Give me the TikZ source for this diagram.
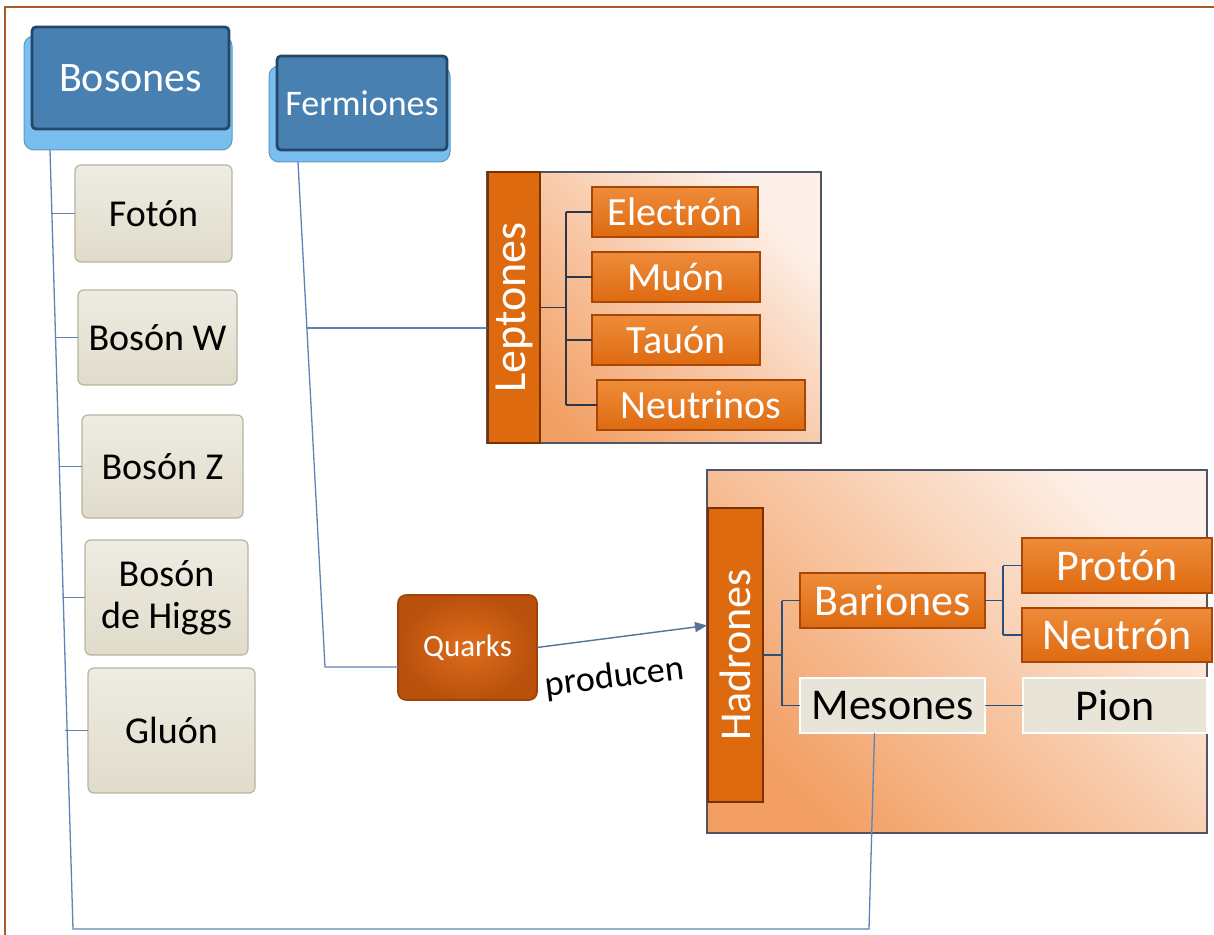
\documentclass[tikz,border=0pt]{standalone}
\usepackage{fontspec}
\setmainfont{Carlito}
\usetikzlibrary{arrows.meta,calc}

\definecolor{frameC}{RGB}{170,90,40}
\definecolor{blueFace}{RGB}{72,128,178}
\definecolor{blueEdge}{RGB}{36,72,105}
\definecolor{blueLight}{RGB}{120,190,238}
\definecolor{beige}{RGB}{224,220,203}
\definecolor{beigeEdge}{RGB}{185,180,160}
\definecolor{orMid}{RGB}{222,106,16}
\definecolor{orDark}{RGB}{170,70,5}
\definecolor{orLight}{RGB}{238,140,58}
\definecolor{lineB}{RGB}{95,132,180}
\definecolor{lineD}{RGB}{45,55,72}
\definecolor{lineH}{RGB}{40,80,125}
\definecolor{panelEdge}{RGB}{80,85,100}
\definecolor{panDark}{RGB}{242,158,98}
\definecolor{panLight}{RGB}{253,240,232}
\definecolor{mesC}{RGB}{232,229,216}
\definecolor{qkIn}{RGB}{222,110,28}
\definecolor{qkOut}{RGB}{185,80,12}

\newcommand\pbox[7]{%
  \pgfmathsetmacro\pbw{(#4-#2)/2}%
  \pgfmathsetmacro\pbh{(#5-#3)/2}%
  \node[#6, minimum width=\pbw pt, minimum height=\pbh pt] (#1) at ({(#2+#4)/2},{(#3+#5)/2}) {#7};%
}

\tikzset{
  every node/.style={inner sep=0pt, outer sep=0pt},
  bluebase/.style={rounded corners=5pt, fill=blueLight, draw=blueLight!80!black, line width=0.5pt},
  blueface/.style={rounded corners=2pt, fill=blueFace, draw=blueEdge, line width=1.4pt, text=white},
  beigebox/.style={rounded corners=3pt, top color=beige!55!white, bottom color=beige, draw=beigeEdge, line width=0.6pt, text=black, font=\fontsize{19}{21}\selectfont, align=center},
  orbox/.style={top color=orLight, bottom color=orMid, draw=orDark, line width=1.3pt, text=white, font=\fontsize{20}{24}\selectfont},
  horbox/.style={orbox, font=\fontsize{22}{26}\selectfont},
  mesbox/.style={fill=mesC, draw=white, line width=1.2pt, text=black, font=\fontsize{22}{26}\selectfont},
  panel/.style={draw=panelEdge, line width=0.75pt, left color=panDark, right color=panLight, shading angle=135},
  barbox/.style={fill=orMid, draw=orDark!70!black, line width=0.9pt},
  quarkbox/.style={rounded corners=4pt, inner color=qkIn, outer color=qkOut, draw=qkOut!85!black, line width=0.8pt, text=white, font=\fontsize{15.5}{18}\selectfont},
  treeB/.style={draw=lineB, line width=0.65pt},
  treeD/.style={draw=lineD, line width=0.8pt},
  treeH/.style={draw=lineH, line width=0.8pt},
  framepath/.style={draw=frameC, line width=1.2pt}
}

\begin{document}
\begin{tikzpicture}[x=0.5pt, y=-0.5pt]
\useasboundingbox (0,0) rectangle (1214,935);
\fill[white] (0,0) rectangle (1214,935);

% frame (top and left)
\draw[framepath] (5,935) -- (5,7) -- (1214,7);

% panels
\pbox{lpan}{487}{172}{821}{443}{panel}{}
\pbox{hpan}{707}{470}{1207}{833}{panel}{}

% blue header boxes
\pbox{bosS}{24}{36}{232}{150}{bluebase}{}
\pbox{bos}{32}{27}{229}{129}{blueface, font=\fontsize{21}{24}\selectfont}{Bosones}
\pbox{ferS}{269}{66}{450}{162}{bluebase}{}
\pbox{fer}{277}{56}{447}{150}{blueface, font=\fontsize{18}{21}\selectfont}{Fermiones}

% bosons
\pbox{fot}{75}{165}{232}{262}{beigebox}{Fotón}
\pbox{bw}{78}{290}{237}{385}{beigebox}{Bosón W}
\pbox{bz}{82}{415}{243}{518}{beigebox}{Bosón Z}
\pbox{hig}{85}{540}{248}{655}{beigebox}{Bosón\\de Higgs}
\pbox{glu}{88}{668}{255}{793}{beigebox}{Gluón}

% leptons
\pbox{lbar}{488}{172}{540}{443}{barbox}{}
\node[rotate=90, text=white, font=\fontsize{23}{26}\selectfont] (lept) at (lbar.center) {Leptones};
\pbox{ele}{592}{187}{758}{237}{orbox}{Electrón}
\pbox{muo}{592}{252}{760}{302}{orbox}{Muón}
\pbox{tau}{592}{315}{760}{365}{orbox}{Tauón}
\pbox{neu}{597}{380}{805}{430}{orbox}{Neutrinos}

% hadrons
\pbox{hbar}{708}{508}{763}{802}{barbox}{}
\node[rotate=90, text=white, font=\fontsize{22}{26}\selectfont] (hadt) at (hbar.center) {Hadrones};
\pbox{bar}{800}{573}{985}{628}{horbox}{Bariones}
\pbox{pro}{1022}{538}{1212}{593}{horbox}{Protón}
\pbox{neut}{1022}{608}{1212}{662}{horbox}{Neutrón}
\pbox{mes}{800}{678}{985}{733}{mesbox}{Mesones}
\pbox{pion}{1023}{678}{1207}{733}{mesbox}{Pion}

% quarks
\pbox{qk}{398}{595}{537}{700}{quarkbox}{Quarks}
\node[rotate=7, font=\fontsize{18}{20}\selectfont] (prod) at (615,678) {producen};

% ---- connectors ----
\coordinate (bt) at ([xshift=13pt]bosS.south west);
\coordinate (bl) at (73,929);
\coordinate (br) at (869,929);
\draw[treeB] (bt) -- (bl) -- (br) -- ([xshift=-9pt]mes.south);
\foreach \n in {fot,bw,bz,hig,glu} \draw[treeB] (\n.west) -- ++(-23,0);

\coordinate (ft) at ([xshift=14.5pt]ferS.south west);
\coordinate (fk) at (325,667);
\coordinate (fl) at (307,328);
\draw[treeB] (ft) -- (fk) -- (fk -| qk.west);
\draw[treeB] (fl) -- (fl -| lpan.west);

\coordinate (lj) at (566,300);
\draw[treeD] (lbar.east) -- (lbar.east -| lj);
\draw[treeD] (ele.west -| lj) -- (neu.west -| lj);
\foreach \n in {ele,muo,tau,neu} \draw[treeD] (\n.west -| lj) -- (\n.west);

\coordinate (hj) at (782,600);
\coordinate (bj) at (1003,600);
\draw[treeH] (hbar.east) -- (hbar.east -| hj);
\draw[treeH] (bar.west -| hj) -- (mes.west -| hj);
\draw[treeH] (bar.west -| hj) -- (bar.west);
\draw[treeH] (mes.west -| hj) -- (mes.west);
\draw[treeH] (bar.east) -- (bar.east -| bj);
\draw[treeH] (pro.west -| bj) -- (neut.west -| bj);
\draw[treeH] (pro.west -| bj) -- (pro.west);
\draw[treeH] (neut.west -| bj) -- (neut.west);
\draw[treeH] (mes.east) -- (pion.west);

\draw[draw=lineH!80, line width=0.7pt, -{Triangle[length=6pt,width=5pt]}] (qk.east) -- ([yshift=13pt]hpan.west);
\end{tikzpicture}
\end{document}
